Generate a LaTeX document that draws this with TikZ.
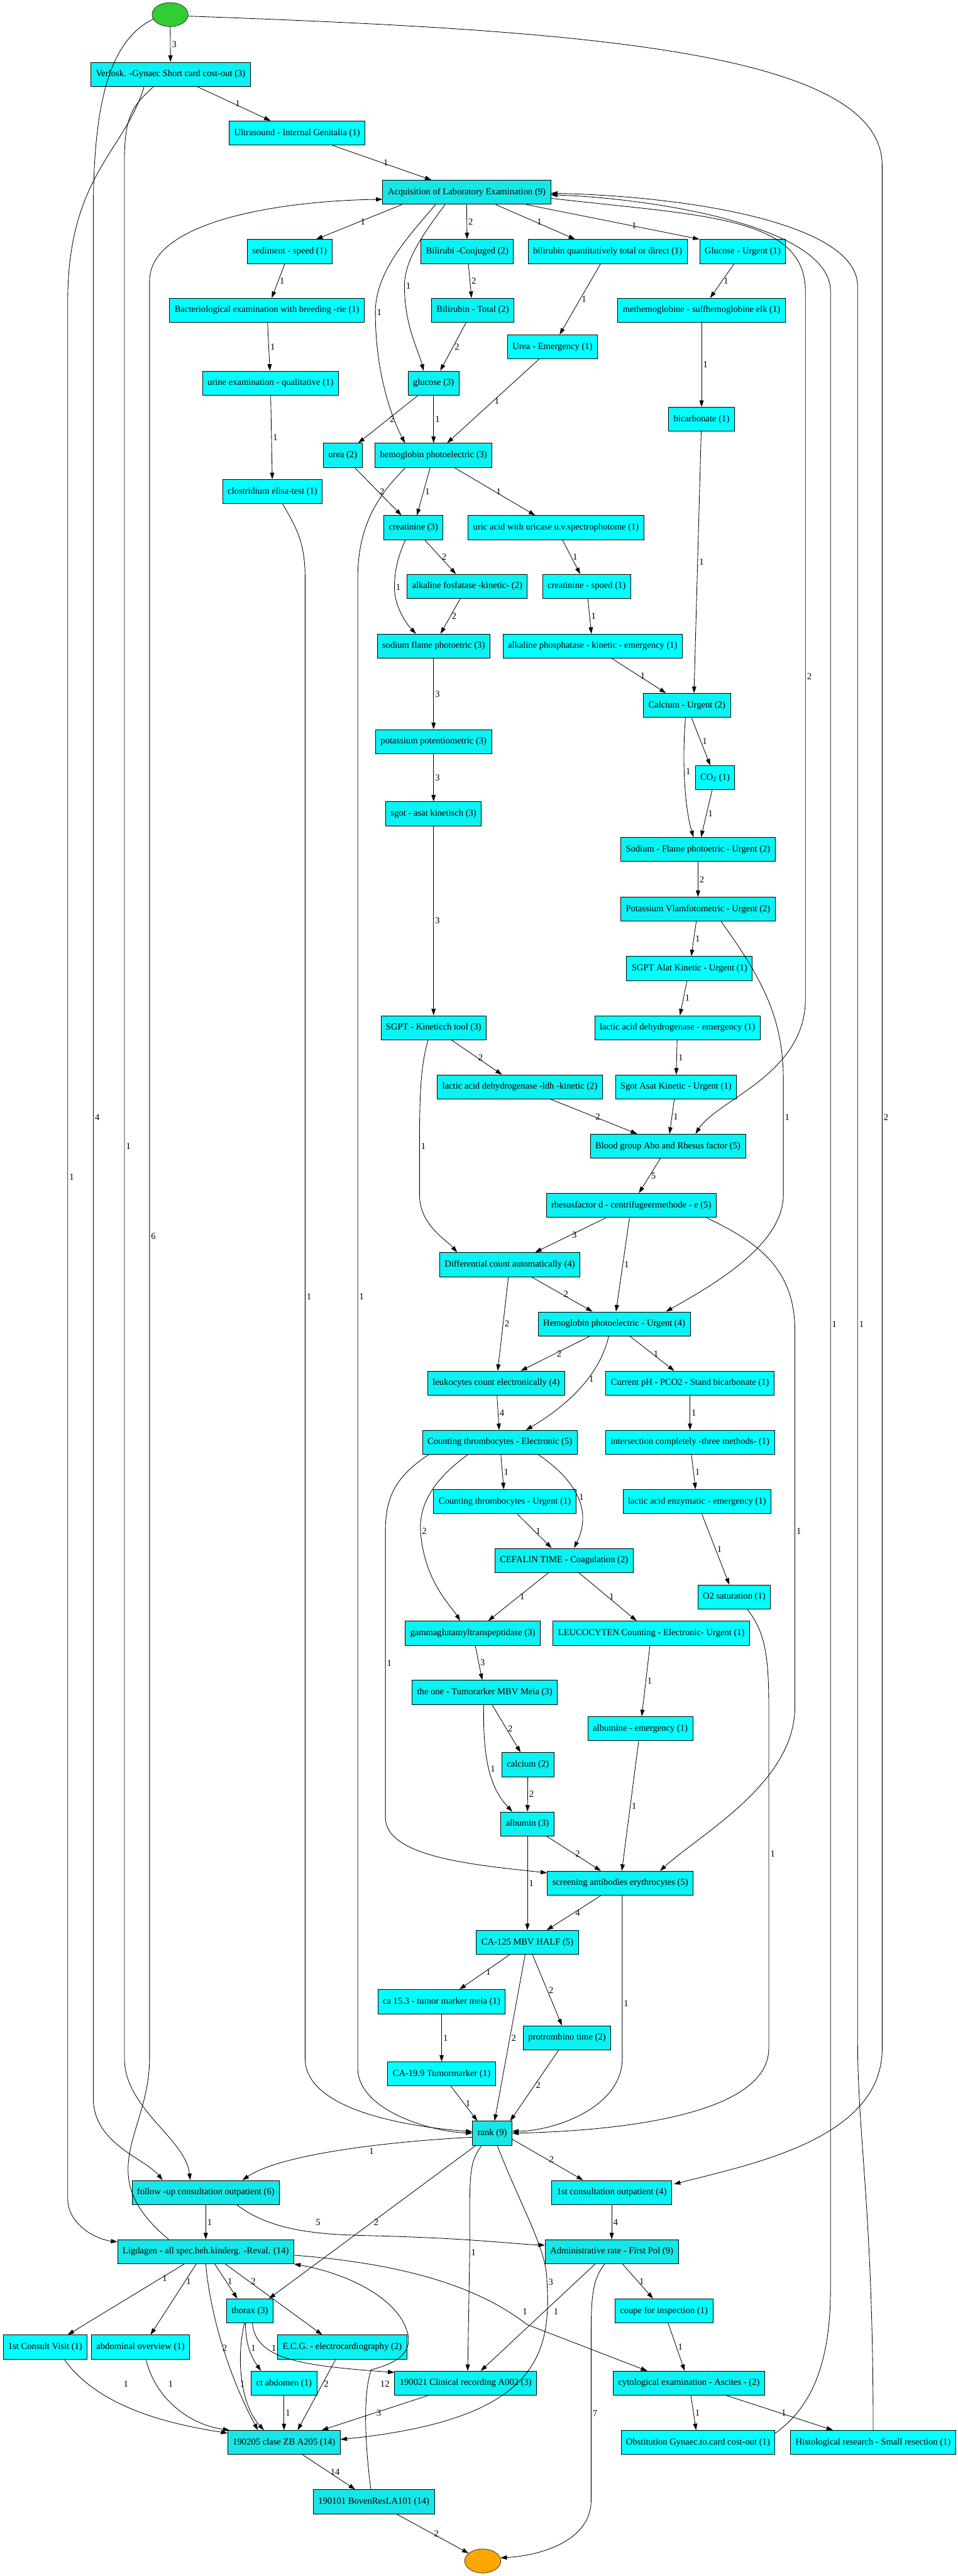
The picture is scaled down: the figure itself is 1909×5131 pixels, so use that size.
\documentclass[tikz,border=0pt]{standalone}
\usepackage{fontspec}
\setmainfont{Liberation Serif}
\usetikzlibrary{arrows.meta, shapes.geometric}

\definecolor{startgreen}{RGB}{50,205,50}
\definecolor{endorange}{RGB}{255,165,0}
\definecolor{cyanlo}{RGB}{0,255,255}
\definecolor{cyanmid}{RGB}{10,242,242}
\definecolor{cyanhi}{RGB}{24,230,230}

\begin{document}
\begin{tikzpicture}[
    x=0.02cm, y=-0.02cm,
    every node/.style={font=\fontsize{10.4}{12}\selectfont},
    act/.style={rectangle, draw, line width=0.6pt, fill=cyanlo, minimum height=0.96cm, inner xsep=0.2cm, inner ysep=0pt},
    actmid/.style={act, fill=cyanmid},
    acthigh/.style={act, fill=cyanhi},
    terminal/.style={ellipse, draw, line width=0.4pt, minimum width=1.44cm, minimum height=0.96cm, inner sep=0pt},
    flow/.style={-{Triangle[length=0.26cm, width=0.17cm]}, line width=0.6pt},
    cnt/.style={inner sep=1.5pt}
]
    \useasboundingbox (0,0) rectangle (1909,5131);

    \node[terminal, fill=startgreen] (start) at (339,29) {};
    \node[actmid] (verlosk) at (340,148) {Verlosk. -Gynaec Short card cost-out (3)};
    \node[act] (ultra) at (592,265) {Ultrasound - Internal Genitalia (1)};
    \node[acthigh] (acq) at (930,383) {Acquisition of Laboratory Examination (9)};
    \node[act] (sediment) at (577,501) {sediment - speed (1)};
    \node[actmid] (biliconj) at (931,501) {Bilirubi -Conjuged (2)};
    \node[act] (biliquant) at (1211,501) {bilirubin quantitatively total or direct (1)};
    \node[act] (glucurg) at (1480,501) {Glucose - Urgent (1)};
    \node[act] (bacterio) at (532,618) {Bacteriological examination with breeding -rie (1)};
    \node[actmid] (bilitot) at (942,618) {Bilirubin - Total (2)};
    \node[act] (methemo) at (1398,618) {methemoglobine - sulfhemoglobine elk (1)};
    \node[act] (ureaem) at (1101,691) {Urea - Emergency (1)};
    \node[act] (urine) at (539,763) {urine examination - qualitative (1)};
    \node[actmid] (glucose) at (864,763) {glucose (3)};
    \node[act] (bicarb) at (1398,835) {bicarbonate (1)};
    \node[actmid] (urea) at (683,907) {urea (2)};
    \node[actmid] (hemo) at (864,907) {hemoglobin photoelectric (3)};
    \node[act] (clostr) at (543,979) {clostridium elisa-test (1)};
    \node[actmid] (creat) at (824,1051) {creatinine (3)};
    \node[act] (uric) at (1108,1051) {uric acid with uricase u.v.spectrophotome (1)};
    \node[actmid] (alkfos) at (931,1168) {alkaline fosfatase -kinetic- (2)};
    \node[act] (creatsp) at (1169,1168) {creatinine - spoed (1)};
    \node[actmid] (sodium) at (864,1287) {sodium flame photoetric (3)};
    \node[act] (alkphos) at (1181,1287) {alkaline phosphatase - kinetic - emergency (1)};
    \node[actmid] (calcurg) at (1369,1405) {Calcium - Urgent (2)};
    \node[actmid] (potass) at (864,1477) {potassium potentiometric (3)};
    \node[act] (cotwo) at (1425,1549) {CO\textsubscript{2} (1)};
    \node[actmid] (sgot) at (864,1621) {sgot - asat kinetisch (3)};
    \node[actmid] (sodurg) at (1391,1692) {Sodium - Flame photoetric - Urgent (2)};
    \node[actmid] (potvlam) at (1391,1811) {Potassium Vlamfotometric - Urgent (2)};
    \node[act] (sgptalat) at (1374,1929) {SGPT Alat Kinetic - Urgent (1)};
    \node[actmid] (sgptkin) at (864,2047) {SGPT - Kineticch tool (3)};
    \node[act] (ldhem) at (1350,2047) {lactic acid dehydrogenase - emergency (1)};
    \node[actmid] (ldhkin) at (1036,2165) {lactic acid dehydrogenase -ldh -kinetic (2)};
    \node[act] (sgotasat) at (1347,2165) {Sgot Asat Kinetic - Urgent (1)};
    \node[actmid] (blood) at (1331,2283) {Blood group Abo and Rhesus factor (5)};
    \node[actmid] (rhesus) at (1258,2401) {rhesusfactor d - centrifugeermethode - e (5)};
    \node[actmid] (diff) at (1016,2519) {Differential count automatically (4)};
    \node[actmid] (hemourg) at (1224,2637) {Hemoglobin photoelectric - Urgent (4)};
    \node[actmid] (leuko) at (989,2755) {leukocytes count electronically (4)};
    \node[act] (curph) at (1375,2755) {Current pH - PCO2 - Stand bicarbonate (1)};
    \node[actmid] (thrombel) at (996,2873) {Counting thrombocytes - Electronic (5)};
    \node[act] (intersec) at (1375,2873) {intersection completely -three methods- (1)};
    \node[act] (thrombu) at (1006,2991) {Counting thrombocytes - Urgent (1)};
    \node[act] (lacenz) at (1389,2991) {lactic acid enzymatic - emergency (1)};
    \node[actmid] (cefalin) at (1124,3108) {CEFALIN TIME - Coagulation (2)};
    \node[act] (otwo) at (1463,3181) {O2 saturation (1)};
    \node[actmid] (gamma) at (942,3253) {gammaglutamyltranspeptidase (3)};
    \node[act] (leucocyt) at (1298,3253) {LEUCOCYTEN Counting - Electronic- Urgent (1)};
    \node[actmid] (tumor) at (966,3371) {the one - Tumorarker MBV Meia (3)};
    \node[act] (albem) at (1276,3443) {albumine - emergency (1)};
    \node[actmid] (calcium) at (1052,3515) {calcium (2)};
    \node[actmid] (albumin) at (1051,3633) {albumin (3)};
    \node[actmid] (screen) at (1236,3751) {screening antibodies erythrocytes (5)};
    \node[actmid] (catwo) at (1051,3869) {CA-125 MBV HALF (5)};
    \node[act] (cafift) at (880,3987) {ca 15.3 - tumor marker meia (1)};
    \node[actmid] (protr) at (1130,4059) {protrombino time (2)};
    \node[act] (canine) at (880,4131) {CA-19.9 Tumormarker (1)};
    \node[acthigh] (rank) at (981,4249) {rank (9)};
    \node[acthigh] (followup) at (410,4367) {follow -up consultation outpatient (6)};
    \node[actmid] (firstcons) at (1219,4367) {1st consultation outpatient (4)};
    \node[acthigh] (ligdagen) at (410,4485) {Ligdagen - all spec.beh.kinderg. -Reval. (14)};
    \node[acthigh] (admin) at (1219,4485) {Administrative rate - First Pol (9)};
    \node[actmid] (thorax) at (498,4603) {thorax (3)};
    \node[act] (coupe) at (1323,4603) {coupe for inspection (1)};
    \node[act] (firstvisit) at (90,4675) {1st Consult Visit (1)};
    \node[act] (abdov) at (280,4675) {abdominal overview (1)};
    \node[actmid] (ecg) at (682,4675) {E.C.G. - electrocardiography (2)};
    \node[act] (ctabd) at (566,4747) {ct abdomen (1)};
    \node[actmid] (clinrec) at (928,4747) {190021 Clinical recording A002 (3)};
    \node[actmid] (cyto) at (1373,4747) {cytological examination - Ascites - (2)};
    \node[acthigh] (clase) at (566,4865) {190205 clase ZB A205 (14)};
    \node[act] (obstit) at (1391,4865) {Obstitution Gynaec.to.card cost-out (1)};
    \node[act] (histo) at (1740,4865) {Histological research - Small resection (1)};
    \node[acthigh] (boven) at (745,4983) {190101 BovenResLA101 (14)};
    \node[terminal, fill=endorange] (end) at (962,5101) {};

    \draw[flow] (start) -- node[cnt,right]{3} (verlosk);
    \draw[flow] (start.195) .. controls (220,80) and (186,200) .. (186,420) -- (186,2226) node[cnt,right]{4} -- (186,4180) .. controls (186,4270) and (290,4300) .. ([shift={(-86,0)}]followup.north);
    \draw[flow] (start.-5) .. controls (1150,60) and (1758,100) .. (1758,330) -- (1758,2226) node[cnt,right]{2} -- (1758,4080) .. controls (1758,4260) and (1500,4310) .. ([shift={(4,8)}]firstcons.north east);
    \draw[flow] (verlosk) -- node[cnt,right]{1} (ultra);
    \draw[flow] ([shift={(-53,0)}]verlosk.south) .. controls (250,300) and (135,350) .. (135,600) -- (135,2345) node[cnt,right]{1} -- (135,4380) .. controls (135,4430) and (190,4460) .. ([shift={(0,5)}]ligdagen.north west);
    \draw[flow] ([shift={(-34,0)}]verlosk.south) .. controls (265,210) and (248,230) .. (248,320) -- (248,2283) node[cnt,right]{1} -- (248,4100) .. controls (248,4200) and (370,4260) .. ([shift={(-31,0)}]followup.north);
    \draw[flow] (ultra) -- node[cnt,right]{1} (acq);

    \draw[flow] ([shift={(-129,0)}]acq.south) -- node[cnt,right]{1} ([shift={(53,0)}]sediment.north);
    \draw[flow] (acq.south) -- node[cnt,right]{2} (biliconj);
    \draw[flow] ([shift={(58,0)}]acq.south) -- node[cnt,right]{1} ([shift={(-65,0)}]biliquant.north);
    \draw[flow] ([shift={(119,0)}]acq.south) -- node[cnt,right,pos=0.6]{1} (glucurg.north west);
    \draw[flow] ([shift={(-43,0)}]acq.south) .. controls (840,470) and (806,520) .. (806,570) node[cnt,right]{1} .. controls (806,650) and (835,700) .. ([shift={(-20,0)}]glucose.north);
    \draw[flow] ([shift={(-62,0)}]acq.south) .. controls (815,470) and (748,540) .. (748,622) node[cnt,right]{1} .. controls (748,760) and (790,850) .. ([shift={(-57,0)}]hemo.north);
    \draw[flow] ([shift={(0,12)}]acq.east) .. controls (1400,430) and (1605,430) .. (1605,580) -- (1605,1348) node[cnt,right]{2} -- (1605,1990) .. controls (1605,2140) and (1430,2190) .. ([shift={(55,0)}]blood.north);
    \draw[flow] ([shift={(0,6)}]obstit.north east) .. controls (1610,4800) and (1655,4720) .. (1655,4560) -- (1655,2638) node[cnt,right]{1} -- (1655,580) .. controls (1655,450) and (1300,395) .. ([shift={(0,5)}]acq.east);
    \draw[flow] (histo.north) .. controls (1740,4400) and (1709,4260) .. (1709,4060) -- (1709,2638) node[cnt,right]{1} -- (1709,570) .. controls (1709,440) and (1350,390) .. ([shift={(0,2)}]acq.east);
    \draw[flow] ([shift={(-74,0)}]ligdagen.north) .. controls (180,4330) and (298,4250) .. (298,4100) -- (298,2462) node[cnt,right]{6} -- (298,560) .. controls (298,440) and (560,400) .. ([shift={(0,14)}]acq.west);

    \draw[flow] (sediment) -- node[cnt,right]{1} (bacterio);
    \draw[flow] (biliconj) -- node[cnt,right]{2} (bilitot);
    \draw[flow] (biliquant) -- node[cnt,right]{1} (ureaem);
    \draw[flow] (glucurg) -- node[cnt,right]{1} (methemo);
    \draw[flow] (bacterio) -- node[cnt,right]{1} (urine);
    \draw[flow] (bilitot) -- node[cnt,right]{2} (glucose);
    \draw[flow] (methemo) -- node[cnt,right]{1} (bicarb);
    \draw[flow] (ureaem) -- node[cnt,right]{1} (hemo);
    \draw[flow] (urine) -- node[cnt,right]{1} (clostr);
    \draw[flow] (glucose) -- node[cnt,right]{2} (urea);
    \draw[flow] (glucose) -- node[cnt,right]{1} (hemo);
    \draw[flow] (hemo) -- node[cnt,right]{1} (creat);
    \draw[flow] (urea) -- node[cnt,right]{2} (creat);
    \draw[flow] (hemo) -- node[cnt,right]{1} (uric);
    \draw[flow] ([shift={(-56,0)}]hemo.south) .. controls (760,980) and (713,1040) .. (713,1150) -- (713,2582) node[cnt,right]{1} -- (713,4120) .. controls (713,4200) and (850,4245) .. (rank.west);
    \draw[flow] ([shift={(20,0)}]clostr.south) .. controls (590,1050) and (608,1080) .. (608,1150) -- (608,2582) node[cnt,right]{1} -- (608,4100) .. controls (608,4200) and (800,4235) .. ([shift={(0,-3)}]rank.west);
    \draw[flow] ([shift={(-16,0)}]creat.south) .. controls (792,1110) and (786,1140) .. (786,1170) node[cnt,right]{1} .. controls (786,1210) and (812,1245) .. ([shift={(-35,0)}]sodium.north);
    \draw[flow] (creat) -- node[cnt,right]{2} (alkfos);
    \draw[flow] (uric) -- node[cnt,right]{1} (creatsp);
    \draw[flow] (alkfos) -- node[cnt,right]{2} (sodium);
    \draw[flow] (creatsp) -- node[cnt,right]{1} (alkphos);
    \draw[flow] (bicarb) -- node[cnt,right]{1} ([shift={(14,0)}]calcurg.north);
    \draw[flow] (alkphos) -- node[cnt,right]{1} ([shift={(-42,0)}]calcurg.north);
    \draw[flow] (sodium) -- node[cnt,right]{3} (potass);
    \draw[flow] ([shift={(9,0)}]calcurg.south) -- node[cnt,right]{1} (cotwo);
    \draw[flow] ([shift={(-3,0)}]calcurg.south) .. controls (1360,1500) and (1362,1600) .. ([shift={(-9,0)}]sodurg.north) node[cnt,pos=0.45,right]{1};
    \draw[flow] (cotwo) -- node[cnt,right]{1} ([shift={(6,0)}]sodurg.north);
    \draw[flow] (potass) -- node[cnt,right]{3} (sgot);
    \draw[flow] (sodurg) -- node[cnt,right]{2} (potvlam);
    \draw[flow] (potvlam) -- node[cnt,right]{1} (sgptalat);
    \draw[flow] ([shift={(46,0)}]potvlam.south) .. controls (1520,1950) and (1561,2030) .. (1561,2150) -- (1561,2226) node[cnt,right]{1} -- (1561,2380) .. controls (1561,2480) and (1420,2560) .. ([shift={(103,0)}]hemourg.north);
    \draw[flow] (sgptalat) -- node[cnt,right]{1} (ldhem);
    \draw[flow] (sgot) -- node[cnt,right]{3} (sgptkin);
    \draw[flow] (sgptkin) -- node[cnt,right]{2} (ldhkin);
    \draw[flow] ([shift={(-11,0)}]sgptkin.south) .. controls (840,2120) and (836,2160) .. (836,2283) node[cnt,right]{1} -- (836,2380) .. controls (836,2440) and (890,2470) .. ([shift={(-105,0)}]diff.north);
    \draw[flow] (ldhem) -- node[cnt,right]{1} (sgotasat);
    \draw[flow] (ldhkin) -- node[cnt,right]{2} (blood);
    \draw[flow] (sgotasat) -- node[cnt,right]{1} (blood);
    \draw[flow] (blood) -- node[cnt,right]{5} (rhesus);
    \draw[flow] (rhesus) -- node[cnt,right]{3} (diff);
    \draw[flow] (rhesus) -- node[cnt,right]{1} (hemourg);
    \draw[flow] ([shift={(150,0)}]rhesus.south) .. controls (1500,2470) and (1584,2520) .. (1584,2650) -- (1584,3050) node[cnt,right]{1} -- (1584,3400) .. controls (1584,3550) and (1400,3650) .. ([shift={(79,0)}]screen.north);
    \draw[flow] (diff) -- node[cnt,right]{2} (hemourg);
    \draw[flow] (diff) -- node[cnt,right]{2} (leuko);
    \draw[flow] (hemourg) -- node[cnt,right]{2} (leuko);
    \draw[flow] (hemourg) -- node[cnt,right]{1} (curph);
    \draw[flow] ([shift={(-11,0)}]hemourg.south) .. controls (1195,2740) and (1130,2800) .. ([shift={(52,0)}]thrombel.north) node[cnt,pos=0.4,right]{1};
    \draw[flow] (leuko) -- node[cnt,right]{4} (thrombel);
    \draw[flow] (curph) -- node[cnt,right]{1} (intersec);
    \draw[flow] (thrombel) -- node[cnt,right]{1} (thrombu);
    \draw[flow] ([shift={(77,0)}]thrombel.south) .. controls (1150,2950) and (1180,3010) .. ([shift={(20,0)}]cefalin.north) node[cnt,pos=0.5,right]{1};
    \draw[flow] ([shift={(-64,0)}]thrombel.south) .. controls (860,2950) and (835,3000) .. (838,3050) node[cnt,right]{2} .. controls (845,3150) and (900,3200) .. ([shift={(-25,0)}]gamma.north);
    \draw[flow] ([shift={(-142,0)}]thrombel.south) .. controls (790,2940) and (768,2980) .. (768,3050) -- (768,3313) node[cnt,right]{1} -- (768,3620) .. controls (768,3700) and (950,3715) .. ([shift={(0,4)}]screen.north west);
    \draw[flow] (thrombu) -- node[cnt,right]{1} (cefalin);
    \draw[flow] (intersec) -- node[cnt,right]{1} (lacenz);
    \draw[flow] (lacenz) -- node[cnt,right]{1} (otwo);
    \draw[flow] ([shift={(26,0)}]otwo.south) .. controls (1525,3250) and (1532,3300) .. (1532,3400) -- (1532,3693) node[cnt,right]{1} -- (1532,4080) .. controls (1532,4220) and (1200,4245) .. (rank.east);
    \draw[flow] (cefalin) -- node[cnt,right]{1} (gamma);
    \draw[flow] (cefalin) -- node[cnt,right]{1} (leucocyt);
    \draw[flow] (gamma) -- node[cnt,right]{3} (tumor);
    \draw[flow] (leucocyt) -- node[cnt,right]{1} (albem);
    \draw[flow] (tumor) -- node[cnt,right]{2} (calcium);
    \draw[flow] ([shift={(-2,0)}]tumor.south) .. controls (962,3500) and (975,3560) .. ([shift={(-30,0)}]albumin.north) node[cnt,pos=0.5,right]{1};
    \draw[flow] (calcium) -- node[cnt,right]{2} (albumin);
    \draw[flow] (albem) -- node[cnt,right]{1} (screen);
    \draw[flow] (albumin) -- node[cnt,right]{2} (screen);
    \draw[flow] (albumin) -- node[cnt,right]{1} (catwo);
    \draw[flow] (screen) -- node[cnt,right]{4} (catwo);
    \draw[flow] ([shift={(4,0)}]screen.south) -- (1240,3990) node[cnt,right]{1} -- (1240,4100) .. controls (1240,4200) and (1100,4245) .. ([shift={(0,-4)}]rank.east);
    \draw[flow] (catwo) -- node[cnt,right]{1} (cafift);
    \draw[flow] (catwo) -- node[cnt,right]{2} (protr);
    \draw[flow] (catwo) -- node[cnt,right]{2} (rank);
    \draw[flow] (cafift) -- node[cnt,right]{1} (canine);
    \draw[flow] (protr) -- node[cnt,right]{2} ([shift={(-4,0)}]rank.north east);
    \draw[flow] (canine) -- node[cnt,right]{1} ([shift={(10,0)}]rank.north west);

    \draw[flow] ([shift={(0,8)}]rank.west) .. controls (780,4265) and (560,4290) .. ([shift={(73,0)}]followup.north) node[cnt,pos=0.4,below right]{1};
    \draw[flow] ([shift={(0,12)}]rank.east) -- node[cnt,right]{2} ([shift={(-57,0)}]firstcons.north);
    \draw[flow] ([shift={(-33,0)}]rank.south) -- node[cnt,right]{2} ([shift={(38,0)}]thorax.north);
    \draw[flow] ([shift={(-21,0)}]rank.south) .. controls (940,4300) and (936,4320) .. (936,4400) -- (936,4487) node[cnt,right]{1} -- ([shift={(4,0)}]clinrec.north);
    \draw[flow] ([shift={(10,0)}]rank.south) .. controls (1040,4400) and (1090,4480) .. (1090,4545) node[cnt,right]{3} .. controls (1100,4700) and (1060,4820) .. ([shift={(0,-6)}]clase.east);
    \draw[flow] (followup) -- node[cnt,right]{1} (ligdagen);
    \draw[flow] ([shift={(62,0)}]followup.south) .. controls (560,4460) and (700,4450) .. (800,4455) .. controls (950,4460) and (1030,4470) .. ([shift={(0,-13)}]admin.west) node[cnt,at={(634,4427)}]{5};
    \draw[flow] (firstcons) -- node[cnt,right]{4} (admin);
    \draw[flow] ([shift={(-43,0)}]ligdagen.south) -- node[cnt,right,pos=0.2]{1} ([shift={(45,0)}]firstvisit.north);
    \draw[flow] ([shift={(-19,0)}]ligdagen.south) -- node[cnt,right,pos=0.25]{1} ([shift={(20,0)}]abdov.north);
    \draw[flow] (ligdagen.south) .. controls (420,4620) and (460,4740) .. ([shift={(-52,0)}]clase.north) node[cnt,at={(448,4677)}]{2};
    \draw[flow] ([shift={(18,0)}]ligdagen.south) -- node[cnt,right]{1} ([shift={(-25,0)}]thorax.north);
    \draw[flow] ([shift={(39,0)}]ligdagen.south) -- node[cnt,right,pos=0.25]{2} ([shift={(-40,0)}]ecg.north);
    \draw[flow] ([shift={(0,7)}]ligdagen.east) .. controls (820,4510) and (960,4560) .. (1050,4630) -- ([shift={(-83,0)}]cyto.north) node[cnt,at={(1046,4605)}]{1};
    \draw[flow] ([shift={(-9,0)}]thorax.south) .. controls (490,4680) and (505,4700) .. ([shift={(-46,0)}]ctabd.north) node[cnt,at={(505,4677)}]{1};
    \draw[flow] ([shift={(5,0)}]thorax.south) .. controls (510,4700) and (600,4712) .. ([shift={(0,3)}]clinrec.north west) node[cnt,at={(546,4677)}]{1};
    \draw[flow] ([shift={(-11,0)}]thorax.south) .. controls (470,4700) and (480,4790) .. ([shift={(-40,0)}]clase.north) node[cnt,at={(483,4748)}]{1};
    \draw[flow] ([shift={(-14,0)}]admin.south) .. controls (1180,4540) and (1178,4580) .. (1178,4650) -- (1178,4808) node[cnt,right]{7} -- (1178,4980) .. controls (1178,5060) and (1080,5090) .. (end.10);
    \draw[flow] ([shift={(-33,0)}]admin.south) -- ([shift={(30,0)}]clinrec.north) node[cnt,at={(1108,4605)}]{1};
    \draw[flow] (admin) -- node[cnt,right]{1} (coupe);
    \draw[flow] (coupe) -- node[cnt,right]{1} (cyto);
    \draw[flow] ([shift={(38,0)}]firstvisit.south) .. controls (200,4800) and (350,4830) .. ([shift={(0,6)}]clase.north west) node[cnt,at={(251,4748)}]{1};
    \draw[flow] ([shift={(11,0)}]abdov.south) .. controls (310,4780) and (380,4830) .. ([shift={(4,0)}]clase.north west) node[cnt,at={(340,4748)}]{1};
    \draw[flow] (ecg) -- node[cnt,right,pos=0.35]{2} ([shift={(27,0)}]clase.north);
    \draw[flow] (ctabd) -- node[cnt,right]{1} (clase);
    \draw[flow] (clinrec) -- node[cnt,right]{3} (clase);
    \draw[flow] (cyto) -- node[cnt,right]{1} (obstit);
    \draw[flow] ([shift={(75,0)}]cyto.south) -- node[cnt,right]{1} ([shift={(-80,0)}]histo.north);
    \draw[flow] (clase) -- node[cnt,right]{14} (boven);
    \draw[flow] (boven) -- node[cnt,right]{2} (end);
    \draw[flow] ([shift={(-6,0)}]boven.north) .. controls (725,4850) and (725,4760) .. (740,4720) .. controls (800,4705) and (825,4680) .. (810,4640) .. controls (790,4580) and (700,4530) .. (ligdagen.south east) node[cnt,at={(767,4748)}]{12};
\end{tikzpicture}
\end{document}
